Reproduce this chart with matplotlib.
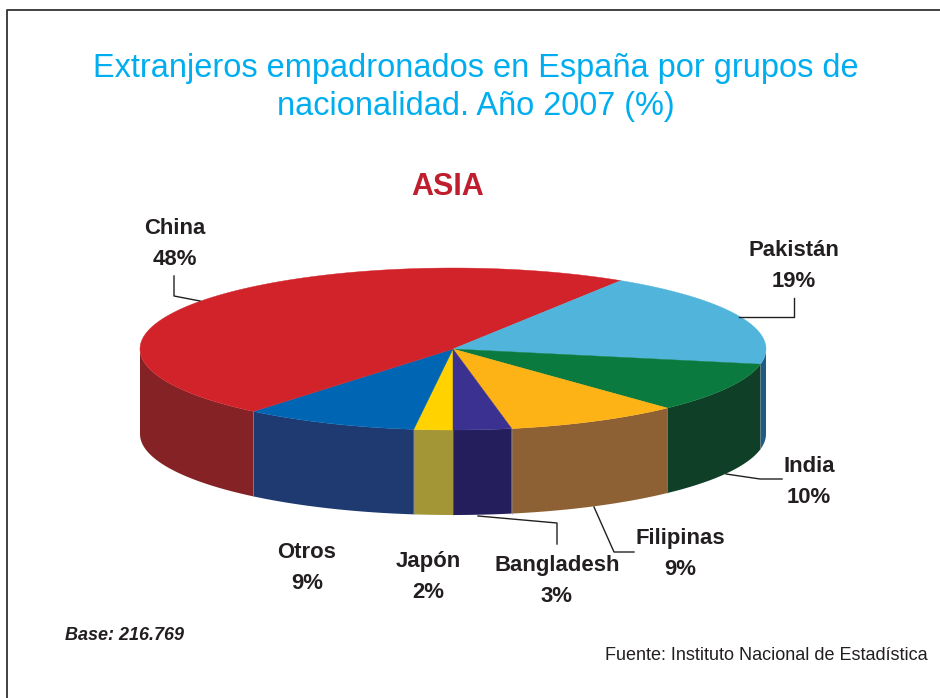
import numpy as np
import matplotlib
matplotlib.use('Agg')
import matplotlib.pyplot as plt
from matplotlib.patches import Polygon

plt.rcParams['font.family'] = ['Liberation Sans', 'DejaVu Sans']

# clockwise starting from the bottom of the ellipse
names = ['Japón', 'Otros', 'China', 'Pakistán', 'India', 'Filipinas', 'Bangladesh']
values = [2, 9, 48, 19, 10, 9, 3]
top_colors = ['#ffd200', '#0066b3', '#d2232a', '#50b4db', '#0a7a3e', '#fdb216', '#3b3190']
side_colors = ['#a39637', '#1f3a70', '#842225', '#1f5c85', '#0f3f27', '#8d6133', '#241f5c']

# label centre and leader line for each slice
label_pos = [(428, 577), (307, 568), (175, 244), (794, 266), (809, 482), (680, 554), (557, 581)]
leaders = [None, None,
           [(174, 276), (174, 296), (200, 301)],
           [(794, 298), (794, 317), (739, 317)],
           [(782, 479), (760, 479), (726, 474)],
           [(634, 552), (614, 552), (594, 507)],
           [(557, 544), (557, 523), (478, 516)]]

cx, cy = 453, 349
rx, ry = 313, 81
depth = 85

fig = plt.figure(figsize=(9.4, 6.98), dpi=100)
ax = fig.add_axes([0, 0, 1, 1])
ax.set_xlim(0, 940)
ax.set_ylim(698, 0)
ax.axis('off')


def ell(a):
    a = np.radians(a)
    return cx + rx * np.cos(a), cy - ry * np.sin(a)


# slice edges in degrees
angles = -90 - 3.6 * np.cumsum([0] + values)

# walls first, only the part of each slice facing the viewer
for i in range(len(values)):
    for shift in (0, 360):
        lo, hi = angles[i + 1] + shift, angles[i] + shift
        lo2, hi2 = max(lo, -180), min(hi, 0)
        if hi2 <= lo2:
            continue
        t = np.linspace(lo2, hi2, 60)
        x, y = ell(t)
        pts = np.r_[np.c_[x, y], np.c_[x[::-1], y[::-1] + depth]]
        ax.add_patch(Polygon(pts, closed=True, fc=side_colors[i], ec='none', zorder=2))
        if lo2 > -180:
            ax.plot([x[0], x[0]], [y[0], y[0] + depth], color='#8a8a9a', lw=0.6, zorder=3, alpha=0.5)

# top of the pie
for i in range(len(values)):
    t = np.linspace(angles[i], angles[i + 1], 120)
    x, y = ell(t)
    pts = np.r_[[[cx, cy]], np.c_[x, y]]
    ax.add_patch(Polygon(pts, closed=True, fc=top_colors[i], ec=top_colors[i], lw=0.3, zorder=4))

for i in range(len(values)):
    ax.text(label_pos[i][0], label_pos[i][1], names[i] + '\n' + str(values[i]) + '%',
            ha='center', va='center', fontsize=15.9, fontweight='bold', color='#231f20',
            linespacing=1.6, zorder=6)
    if leaders[i] is not None:
        lx, ly = zip(*leaders[i])
        ax.plot(lx, ly, color='#231f20', lw=1, zorder=5)

ax.text(476, 87.5, 'Extranjeros empadronados en España por grupos de\nnacionalidad. Año 2007 (%)',
        ha='center', va='center', fontsize=23.45, color='#00aeef', linespacing=1.33)
ax.text(448, 187, 'ASIA', ha='center', va='center', fontsize=22, fontweight='bold', color='#be1e2d')
ax.text(65, 636, 'Base: 216.769', ha='left', va='center', fontsize=13,
        fontweight='bold', fontstyle='italic', color='#231f20')
ax.text(928, 655, 'Fuente: Instituto Nacional de Estadística', ha='right', va='center',
        fontsize=13, color='#231f20')

# page frame, open on the right and at the bottom
ax.plot([7, 7, 940], [698, 10, 10], color='#333333', lw=1.3, zorder=1)

fig.savefig('out.png', dpi=100)
